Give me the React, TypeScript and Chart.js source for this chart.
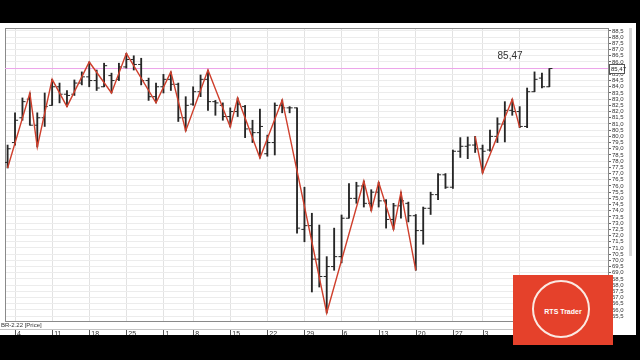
import React, { useEffect, useRef } from "react";
import { Chart, registerables } from "chart.js";

Chart.register(...registerables);

// Daily OHLC bars, BR-2.22 (index = trading day)
const OPEN = [77.9, 79.5, 81.5, 83.0, 80.9, 81.5, 82.5, 84.0, 83.4, 83.4, 84.3, 84.8, 84.5, 84.0, 84.9, 84.6, 85.6, 86.2, 85.8, 84.5, 83.2, 84.0, 84.6, 84.2, 81.5, 82.6, 83.6, 84.6, 82.8, 82.5, 81.6, 82.0, 82.4, 80.6, 80.3, 78.6, 79.5, 82.5, 82.3, 82.3, 72.5, 72.8, 70.1, 68.7, 69.5, 70.3, 73.4, 75.0, 76.0, 74.6, 75.5, 74.8, 73.3, 74.4, 74.6, 73.6, 72.4, 74.2, 75.3, 76.9, 75.9, 78.8, 79.2, 79.3, 79.0, 78.9, 80.0, 81.0, 82.1, 82.0, 80.8, 83.6, 84.7, 84.0];
const HIGH = [79.3, 81.9, 83.1, 83.5, 81.9, 83.5, 84.6, 84.3, 83.7, 84.55, 85.2, 86.0, 85.35, 85.9, 85.1, 85.9, 86.7, 86.5, 86.3, 84.7, 84.3, 85.0, 85.2, 84.3, 83.2, 84.0, 84.95, 85.35, 82.9, 82.7, 82.3, 83.1, 82.5, 81.3, 82.2, 80.1, 82.7, 82.94, 82.4, 82.3, 75.9, 73.8, 72.85, 70.3, 72.6, 73.66, 76.2, 76.3, 76.4, 75.7, 76.3, 74.9, 74.6, 75.5, 74.7, 73.7, 74.3, 75.5, 77.0, 77.0, 78.9, 79.9, 79.95, 80.0, 79.3, 80.5, 81.5, 82.8, 83.0, 82.4, 83.9, 85.2, 85.1, 85.47];
const LOW = [77.45, 79.3, 81.3, 80.9, 79.15, 80.8, 82.5, 82.7, 82.4, 83.3, 84.15, 84.0, 83.7, 84.0, 83.5, 84.5, 85.5, 85.35, 84.15, 82.9, 82.7, 83.5, 83.7, 81.2, 80.44, 82.5, 83.2, 82.1, 81.7, 81.3, 80.76, 81.6, 79.9, 79.5, 78.25, 78.4, 78.5, 81.9, 81.9, 72.2, 71.5, 67.45, 67.85, 65.76, 69.2, 69.8, 73.4, 74.6, 74.3, 74.0, 74.3, 72.6, 72.5, 73.4, 73.1, 69.2, 71.3, 73.7, 74.9, 75.8, 75.8, 78.3, 78.2, 78.7, 77.05, 78.8, 79.5, 79.55, 81.7, 80.7, 80.7, 83.6, 83.9, 84.0];
const CLOSE = [79.0, 81.3, 82.8, 80.9, 81.5, 82.4, 84.0, 83.4, 83.3, 84.3, 84.8, 84.5, 83.9, 85.7, 84.5, 85.6, 86.2, 85.8, 84.5, 83.2, 84.0, 84.6, 84.2, 81.5, 82.5, 83.6, 84.6, 82.8, 82.7, 81.6, 82.0, 82.6, 80.6, 80.3, 80.8, 79.5, 82.5, 82.3, 82.3, 72.6, 72.8, 70.1, 68.7, 69.5, 70.3, 73.4, 75.0, 76.0, 74.6, 75.5, 74.8, 73.3, 74.4, 74.8, 73.6, 72.4, 74.2, 75.3, 76.9, 75.9, 78.8, 79.2, 79.3, 79.0, 78.8, 80.0, 81.0, 82.1, 82.0, 80.8, 83.6, 84.6, 84.0, 85.47];

// ZigZag indicator swing points (bar index, price); null = gap
const ZZ_X = [0, 3, 4, 6, 8, 11, 14, 16, 20, 22, 24, 27, 30, 31, 34, 37, 43, 48, 49, 50, 52, 53, 55, 59, 63, 64, 68, 69];
const ZZ_Y = [77.45, 83.5, 79.15, 84.6, 82.4, 86.0, 83.5, 86.7, 82.7, 85.2, 80.44, 85.35, 80.76, 83.1, 78.25, 82.94, 65.76, 76.4, 74.0, 76.3, 72.5, 75.5, 69.2, null, 80.0, 77.05, 83.0, 80.7];

// Week-start ticks on the date axis
const WEEK_IDX = [1, 6, 11, 16, 21, 25, 30, 35, 40, 45, 50, 55, 60, 64, 69];
const DATE_LABELS = ["4", "11", "18", "25", "1", "8", "15", "22", "29", "6", "13", "20", "27", "3", "10"];

const LAST_PRICE = 85.47;
const LAST_LABEL_X = 67.7;
const X_MIN = -0.35;
const X_MAX = 80.9;
const Y_MIN = 65.11;
const Y_MAX = 88.74;
const Y_TICK_FROM = 65.5;
const Y_TICK_TO = 88.5;
const Y_STEP = 0.5;

const fmt = (v: number) => v.toFixed(2).replace(".", ",");
const fmt1 = (v: number) => v.toFixed(1).replace(".", ",");

const BAR_COLOR = "#262626";

export default function App() {
  const ref = useRef<HTMLCanvasElement>(null);

  useEffect(() => {
    const yTicks: number[] = [];
    for (let v = Y_TICK_FROM; v <= Y_TICK_TO + 1e-9; v += Y_STEP) yTicks.push(Math.round(v * 10) / 10);

    const framePlugin = {
      id: "frame",
      beforeDatasetsDraw(chart: any) {
        const { ctx, chartArea } = chart;
        ctx.save();
        ctx.strokeStyle = "#8a8a8a";
        ctx.lineWidth = 1;
        ctx.strokeRect(Math.round(chartArea.left) + 0.5, Math.round(chartArea.top) + 0.5, Math.round(chartArea.right - chartArea.left), Math.round(chartArea.bottom - chartArea.top));
        ctx.restore();
      },
      afterDraw(chart: any) {
        const { ctx, chartArea, scales } = chart;
        const xs = scales.x;
        const ys = scales.y;
        const yp = ys.getPixelForValue(LAST_PRICE);
        ctx.save();
        // last price text above bars
        ctx.fillStyle = "#333";
        ctx.font = "10px 'Liberation Sans', Arial, sans-serif";
        ctx.textAlign = "center";
        ctx.textBaseline = "middle";
        ctx.fillText(fmt(LAST_PRICE), xs.getPixelForValue(LAST_LABEL_X), yp - 12.5);
        // price box on the axis
        const bx = chartArea.right + 1;
        ctx.fillStyle = "#fff";
        ctx.fillRect(bx, yp - 4.5, 15, 9);
        ctx.strokeStyle = "#555";
        ctx.strokeRect(bx + 0.5, Math.round(yp - 4.5) + 0.5, 15, 9);
        ctx.fillStyle = "#222";
        ctx.font = "6px 'Liberation Sans', Arial, sans-serif";
        ctx.textAlign = "left";
        ctx.fillText(fmt(LAST_PRICE), bx + 2, yp + 0.5);
        // date axis tick marks
        ctx.strokeStyle = "#555";
        ctx.lineWidth = 1;
        for (const t of WEEK_IDX) {
          const px = Math.round(xs.getPixelForValue(t)) + 0.5;
          ctx.beginPath();
          ctx.moveTo(px, chartArea.bottom + 9);
          ctx.lineTo(px, chartArea.bottom + 16);
          ctx.stroke();
        }
        ctx.restore();
      },
    };

    const chart = new Chart(ref.current as HTMLCanvasElement, {
      type: "bar",
      data: {
        datasets: [
          {
            type: "line",
            data: ZZ_X.map((x, i) => ({ x, y: ZZ_Y[i] })),
            borderColor: "#cf3f2c",
            borderWidth: 1.4,
            pointRadius: 0,
            spanGaps: false,
            order: 0,
          } as any,
          {
            type: "bar",
            data: HIGH.map((h, i) => ({ x: i, y: [LOW[i], h] })),
            backgroundColor: BAR_COLOR,
            barThickness: 1.2,
            order: 2,
          } as any,
          {
            type: "scatter",
            data: OPEN.map((o, i) => ({ x: i - 0.2, y: o })),
            pointStyle: "line",
            pointRadius: 1.6,
            pointBorderWidth: 1,
            borderColor: BAR_COLOR,
            backgroundColor: BAR_COLOR,
            order: 1,
          } as any,
          {
            type: "scatter",
            data: CLOSE.map((c, i) => ({ x: i + 0.2, y: c })),
            pointStyle: "line",
            pointRadius: 1.6,
            pointBorderWidth: 1,
            borderColor: BAR_COLOR,
            backgroundColor: BAR_COLOR,
            order: 1,
          } as any,
          {
            type: "line",
            data: [
              { x: X_MIN, y: LAST_PRICE },
              { x: X_MAX, y: LAST_PRICE },
            ],
            borderColor: "#eca4ea",
            borderWidth: 1,
            pointRadius: 0,
            order: 3,
          } as any,
        ],
      },
      options: {
        animation: false,
        responsive: false,
        events: [],
        layout: { padding: { left: 2, top: 5, right: 0, bottom: 0 } },
        plugins: { legend: { display: false }, tooltip: { enabled: false } },
        scales: {
          x: {
            type: "linear",
            min: X_MIN,
            max: X_MAX,
            offset: false,
            grid: { offset: false, color: "#e2e2e2", drawTicks: false },
            border: { display: false },
            afterBuildTicks: (s: any) => {
              s.ticks = WEEK_IDX.map((v) => ({ value: v }));
            },
            afterFit: (s: any) => {
              s.height = 14;
            },
            ticks: {
              autoSkip: false,
              maxRotation: 0,
              align: "start",
              labelOffset: 2,
              padding: 9,
              color: "#333",
              font: { size: 7, family: "'Liberation Sans', Arial, sans-serif" },
              callback: (v: any) => {
                const k = WEEK_IDX.indexOf(Number(v));
                return k >= 0 ? DATE_LABELS[k] : "";
              },
            },
          },
          y: {
            type: "linear",
            position: "right",
            min: Y_MIN,
            max: Y_MAX,
            beginAtZero: false,
            grid: { color: "#ececec", tickLength: 3, tickColor: "#666" },
            border: { display: true, color: "#777" },
            afterBuildTicks: (s: any) => {
              s.ticks = yTicks.map((v) => ({ value: v }));
            },
            afterFit: (s: any) => {
              s.width = 28;
            },
            ticks: {
              autoSkip: false,
              padding: 1,
              color: "#333",
              font: { size: 6, family: "'Liberation Sans', Arial, sans-serif" },
              callback: (v: any) => fmt1(Number(v)),
            },
          },
        },
      } as any,
      plugins: [framePlugin],
    });
    return () => chart.destroy();
  }, []);

  return (
    <div style={{ position: "fixed", left: 0, top: 0, width: 640, height: 360, background: "#000", overflow: "hidden", fontFamily: "'Liberation Sans', Arial, sans-serif" }}>
      <div style={{ position: "absolute", left: 0, top: 23, width: 636, height: 312, background: "#fff" }}>
        <canvas ref={ref} width={636} height={312} style={{ width: 636, height: 312, display: "block" }} />
        <div style={{ position: "absolute", left: 1, top: 299, fontSize: 6, color: "#333", lineHeight: "6px" }}>BR-2.22 [Price]</div>
        <div style={{ position: "absolute", left: 0, top: 306, width: 608, height: 1, background: "#c4c4c4" }} />
        <div style={{ position: "absolute", left: 629, top: 5, width: 3, height: 228, background: "#d6d6d6" }} />
      </div>
      <div style={{ position: "absolute", left: 513, top: 275, width: 100, height: 70, background: "#e5412b" }}>
        <div style={{ position: "absolute", left: 19, top: 5, width: 58, height: 58, borderRadius: "50%", border: "2px solid #fbe9e2", boxSizing: "border-box" }} />
        <div style={{ position: "absolute", left: 0, width: 100, top: 33, textAlign: "center", color: "#fff", fontSize: 7, fontWeight: "bold", lineHeight: "8px" }}>RTS Trader</div>
      </div>
    </div>
  );
}
